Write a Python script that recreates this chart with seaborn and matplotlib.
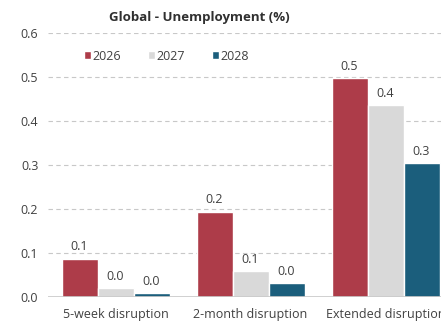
import matplotlib
matplotlib.use("Agg")
import matplotlib.pyplot as plt
import seaborn as sns
import pandas as pd

scenarios = ["5-week disruption", "2-month disruption", "Extended disruption"]
years = ["2026", "2027", "2028"]
values_2026 = [0.087, 0.194, 0.497]
values_2027 = [0.020, 0.058, 0.436]
values_2028 = [0.008, 0.031, 0.304]
palette = ["#AD3C49", "#D9D9D9", "#1B5E7C"]

rows = []
for yr, vals in zip(years, [values_2026, values_2027, values_2028]):
    for sc, v in zip(scenarios, vals):
        rows.append({"scenario": sc, "year": yr, "value": v})
df = pd.DataFrame(rows)

sns.set_theme(style="white")
plt.rcParams["font.family"] = ["Open Sans", "DejaVu Sans"]

fig = plt.figure(figsize=(4.41, 3.21), dpi=100)
ax = fig.add_axes([48 / 441, 24 / 321, 405 / 441, 264 / 321])

sns.barplot(data=df, x="scenario", y="value", hue="year", hue_order=years,
            palette=palette, width=0.8, saturation=1, ax=ax, errorbar=None)

ax.set_ylim(0, 0.6)
ax.set_xlim(-0.5, 2.5)
ax.set_yticks([0.0, 0.1, 0.2, 0.3, 0.4, 0.5, 0.6])
ax.set_yticklabels([f"{t:.1f}" for t in ax.get_yticks()])
for y in [0.1, 0.2, 0.3, 0.4, 0.5, 0.6]:
    ax.axhline(y, color="#C8C8C8", lw=0.8, ls=(0, (4, 3)), zorder=0)
ax.axhline(0, color="#C8C8C8", lw=1.2, zorder=3)
for s in ax.spines.values():
    s.set_visible(False)
ax.set_xlabel("")
ax.set_ylabel("")
ax.tick_params(axis="both", length=0, labelsize=9, colors="#404040")
ax.tick_params(axis="x", pad=8)
ax.tick_params(axis="y", pad=7)

for cont in ax.containers:
    ax.bar_label(cont, labels=[f"{v:.1f}" for v in cont.datavalues],
                 padding=4, fontsize=9, color="#404040")

leg = ax.legend(loc="center left", bbox_to_anchor=(36 / 405, 1 - (56 - 33) / 264),
                ncol=3, frameon=False, fontsize=9, handlelength=0.55,
                handleheight=0.55, handletextpad=0.1, columnspacing=2.2,
                borderaxespad=0, borderpad=0)
for t in leg.get_texts():
    t.set_color("#404040")

fig.text(199 / 441, 1 - 17 / 321, "Global - Unemployment (%)", ha="center",
         va="center", fontsize=9.5, fontweight="bold", color="#303030")

fig.savefig("out.png", dpi=100)
